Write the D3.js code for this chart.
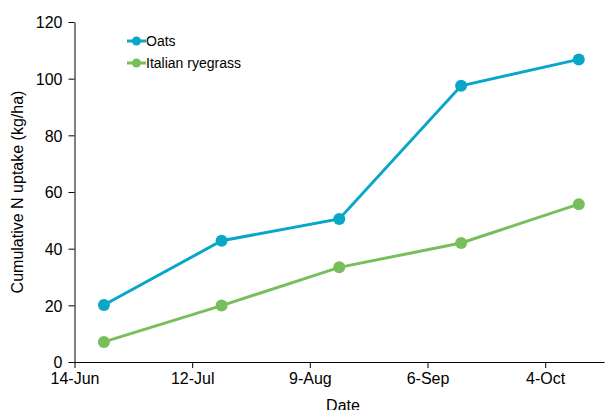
<!DOCTYPE html>
<html>
<head>
<meta charset="utf-8">
<script src="https://cdn.jsdelivr.net/npm/d3@7"></script>
<style>
  body { margin: 0; background: #fff; }
  svg { display: block; font-family: "Liberation Sans", Arial, sans-serif; }
  .axis text { font-size: 16px; fill: #000; }
  .axis path, .axis line { stroke: #000; }
</style>
</head>
<body>
<div id="chart"></div>
<script>
// Cumulative N uptake chart

const width = 605, height = 410,
    margin = ({ top: 22, right: 1, bottom: 48, left: 74.5 });

// data
const dates = ["2023-06-21", "2023-07-19", "2023-08-16", "2023-09-14", "2023-10-12"];
const oats = [20.1, 42.8, 50.5, 97.5, 106.8];
const ryegrass = [7.1, 19.9, 33.4, 42, 55.7];
const seriesNames = ["Oats", "Italian ryegrass"];
const seriesColors = ["#0aa6c8", "#78bf5c"];
const tickDates = ["2023-06-14", "2023-07-12", "2023-08-09", "2023-09-06", "2023-10-04"];
const yTicks = [0, 20, 40, 60, 80, 100, 120];

const parse = d3.timeParse("%Y-%m-%d");

const svg = d3.select("#chart")
    .append("svg")
    .attr("width", width)
    .attr("height", height);

let x = d3.scaleTime()
    .domain([parse("2023-06-14"), parse("2023-10-18")])
    .range([margin.left, width - margin.right]);

let y = d3.scaleLinear()
    .domain([0, 120])
    .range([height - margin.bottom, margin.top]);

// y axis
svg.append("g")
    .attr("class", "axis")
    .attr("transform", `translate(${margin.left},0)`)
    .call(d3.axisLeft(y).tickValues(yTicks).tickSize(6).tickSizeOuter(0).tickPadding(6))
    .call(g => g.selectAll("text").attr("dy", "0.36em"));

// x axis
svg.append("g")
    .attr("class", "axis")
    .attr("transform", `translate(0,${height - margin.bottom})`)
    .call(d3.axisBottom(x)
        .tickValues(tickDates.map(parse))
        .tickFormat(d3.timeFormat("%-d-%b"))
        .tickSize(6).tickSizeOuter(0).tickPadding(5));

svg.append("text")
    .attr("x", 343)
    .attr("y", 411)
    .attr("text-anchor", "middle")
    .attr("font-size", 16)
    .text("Date");

svg.append("text")
    .attr("transform", `translate(23,${(margin.top + height - margin.bottom) / 2}) rotate(-90)`)
    .attr("text-anchor", "middle")
    .attr("font-size", 16)
    .text("Cumulative N uptake (kg/ha)");

const line = d3.line()
    .x(d => x(d.date))
    .y(d => y(d.value));

[oats, ryegrass].forEach((vals, i) => {
    const pts = vals.map((v, j) => ({ date: parse(dates[j]), value: v }));
    svg.append("path")
        .datum(pts)
        .attr("d", line)
        .attr("fill", "none")
        .attr("stroke", seriesColors[i])
        .attr("stroke-width", 3);
    svg.append("g")
        .selectAll("circle")
        .data(pts)
        .join("circle")
        .attr("cx", d => x(d.date))
        .attr("cy", d => y(d.value))
        .attr("r", 6)
        .attr("fill", seriesColors[i]);

    // legend
    const ly = 41 + i * 22;
    svg.append("line")
        .attr("x1", 127).attr("x2", 146)
        .attr("y1", ly).attr("y2", ly)
        .attr("stroke", seriesColors[i])
        .attr("stroke-width", 3);
    svg.append("circle")
        .attr("cx", 136.5).attr("cy", ly).attr("r", 4.5)
        .attr("fill", seriesColors[i]);
    svg.append("text")
        .attr("x", 146).attr("y", ly)
        .attr("dy", "0.36em")
        .attr("font-size", 14)
        .text(seriesNames[i]);
});
</script>
</body>
</html>
